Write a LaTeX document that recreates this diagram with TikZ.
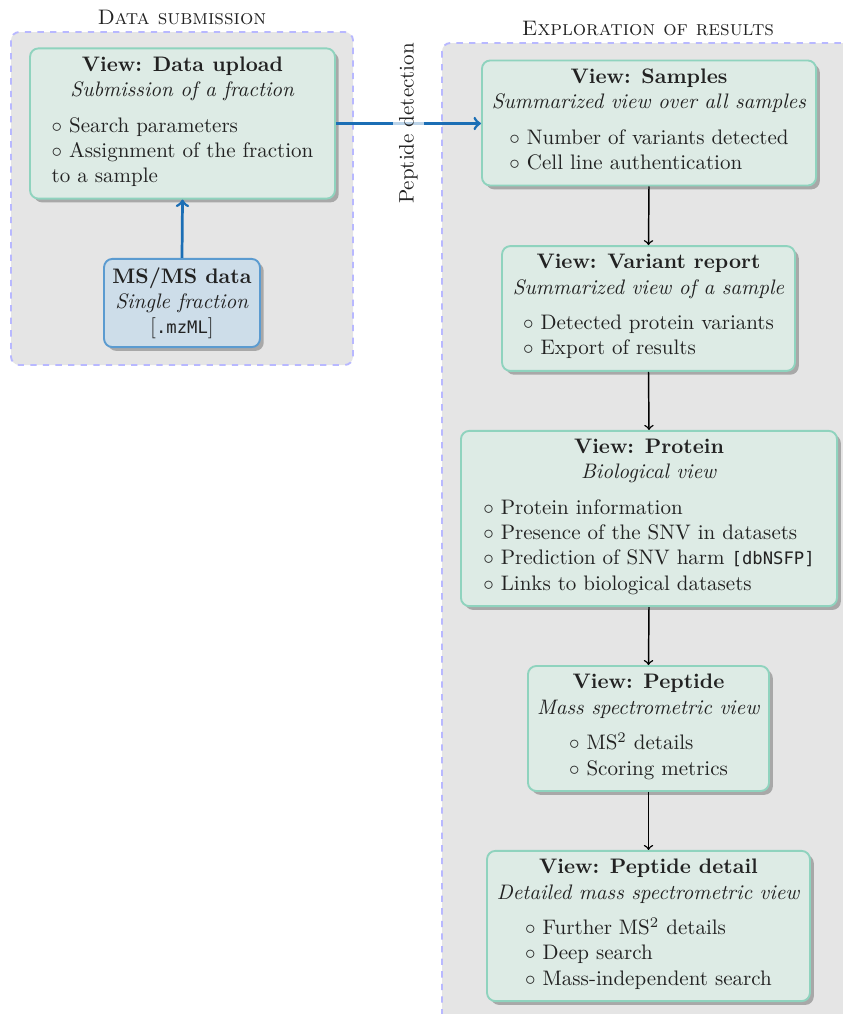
\documentclass[tikz,border=0pt]{standalone}
\usepackage{fontspec}
\setmonofont{DejaVu Sans Mono}[Scale=0.82]
\usetikzlibrary{shadows}
\definecolor{vfill}{HTML}{DDEBE5}
\definecolor{vdraw}{HTML}{8FD3BE}
\definecolor{dfill}{HTML}{CDDDE9}
\definecolor{ddraw}{HTML}{5B9BD0}
\definecolor{barrow}{HTML}{1B6EB5}
\definecolor{bgfill}{HTML}{E5E5E5}
\definecolor{bgdraw}{HTML}{B8B8FF}
\definecolor{txt}{HTML}{222222}
\newcommand{\itm}{$\circ$ }
\begin{document}
\begin{tikzpicture}[x=0.4762pt,y=-0.4762pt,
  panel/.style={draw=bgdraw,dashed,fill=bgfill,rounded corners=4pt,line width=0.9pt},
  paneltitle/.style={font=\scshape,inner sep=0pt,text=txt},
  box/.style={rounded corners=4pt,line width=0.9pt,align=center,inner sep=4pt,text=txt,
    drop shadow={shadow xshift=1.8pt,shadow yshift=-1.8pt,fill=black!40,opacity=0.8}},
  viewbox/.style={box,draw=vdraw,fill=vfill},
  databox/.style={box,draw=ddraw,fill=dfill},
  blueflow/.style={->,draw=barrow,line width=1.3pt},
  flow/.style={->,draw=black,line width=0.7pt},
  flowlabel/.style={rotate=90,fill=white,fill opacity=0.7,text opacity=1,inner sep=3pt,text=txt}]
\useasboundingbox (0,0) rectangle (843,1014);
\begin{scope}
\clip (0,0) rectangle (843,1014);
\draw[panel] (11,32) rectangle (353,365);
\draw[panel] (442,43) rectangle (870,1040);
\end{scope}
\node[paneltitle] (t1) at (182,17) {Data submission};
\node[paneltitle] (t2) at (648,29) {Exploration of results};

\node[viewbox,minimum width=145.2pt,minimum height=70pt] (upload) at (182.5,123.5)
  {\textbf{View: Data upload}\\ \textit{Submission of a fraction}\\[5pt]
   \begin{tabular}[t]{@{}l@{}}\itm Search parameters\\ \itm Assignment of the fraction\\ to a sample\end{tabular}};
\node[databox,minimum width=73.3pt,minimum height=41pt] (msms) at (182,303)
  {\textbf{MS/MS data}\\ \textit{Single fraction}\\ {[}\texttt{.mzML}{]}};

\node[viewbox,minimum width=159.1pt,minimum height=58.1pt] (samples) at (649,123)
  {\textbf{View: Samples}\\ \textit{Summarized view over all samples}\\[5pt]
   \begin{tabular}[t]{@{}l@{}}\itm Number of variants detected\\ \itm Cell line authentication\end{tabular}};
\node[viewbox,minimum width=139.5pt,minimum height=57.6pt] (variant) at (648.5,308.5)
  {\textbf{View: Variant report}\\ \textit{Summarized view of a sample}\\[5pt]
   \begin{tabular}[t]{@{}l@{}}\itm Detected protein variants\\ \itm Export of results\end{tabular}};
\node[viewbox,minimum width=179.1pt,minimum height=82.4pt] (protein) at (649,518.5)
  {\textbf{View: Protein}\\ \textit{Biological view}\\[5pt]
   \begin{tabular}[t]{@{}l@{}}\itm Protein information\\ \itm Presence of the SNV in datasets\\ \itm Prediction of SNV harm \texttt{[dbNSFP]}\\ \itm Links to biological datasets\end{tabular}};
\node[viewbox,minimum width=114.8pt,minimum height=58.6pt] (peptide) at (648.5,728.5)
  {\textbf{View: Peptide}\\ \textit{Mass spectrometric view}\\[5pt]
   \begin{tabular}[t]{@{}l@{}}\itm MS$^2$ details\\ \itm Scoring metrics\end{tabular}};
\node[viewbox,minimum width=153.8pt,minimum height=70.5pt] (detail) at (648.5,926)
  {\textbf{View: Peptide detail}\\ \textit{Detailed mass spectrometric view}\\[5pt]
   \begin{tabular}[t]{@{}l@{}}\itm Further MS$^2$ details\\ \itm Deep search\\ \itm Mass-independent search\end{tabular}};

\draw[blueflow] (msms.north) -- (upload.south);
\draw[blueflow] (upload.east) -- node[flowlabel] {Peptide detection} (upload.east -| samples.west);
\draw[flow] (samples.south) -- (variant.north);
\draw[flow] (variant.south) -- (protein.north);
\draw[flow] (protein.south) -- (peptide.north);
\draw[flow] (peptide.south) -- (detail.north);
\end{tikzpicture}
\end{document}
